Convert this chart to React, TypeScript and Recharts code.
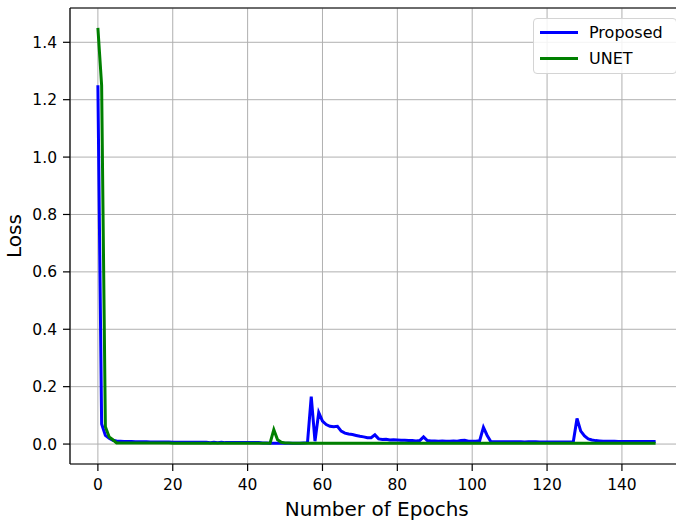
import React from "react";
import {
  LineChart,
  Line,
  CartesianGrid,
  XAxis,
  YAxis,
  ReferenceLine,
  Label,
} from "recharts";

// loss per epoch (epochs 0..149)
const proposed = [
  1.25, 0.07, 0.03, 0.02, 0.013, 0.011, 0.01, 0.009, 0.009, 0.009,
  0.008, 0.008, 0.008, 0.008, 0.007, 0.007, 0.007, 0.007, 0.007, 0.007,
  0.006, 0.006, 0.006, 0.006, 0.006, 0.006, 0.006, 0.006, 0.006, 0.006,
  0.005, 0.006, 0.005, 0.006, 0.005, 0.005, 0.005, 0.005, 0.005, 0.005,
  0.005, 0.005, 0.005, 0.005, 0.004, 0.004, 0.003, 0.003, 0.003, 0.003,
  0.003, 0.003, 0.003, 0.003, 0.003, 0.004, 0.005, 0.165, 0.01, 0.11,
  0.08, 0.068, 0.062, 0.06, 0.062, 0.045, 0.038, 0.035, 0.033, 0.03,
  0.027, 0.025, 0.022, 0.022, 0.032, 0.018, 0.016, 0.017, 0.014, 0.015,
  0.014, 0.013, 0.013, 0.012, 0.012, 0.011, 0.012, 0.025, 0.012, 0.011,
  0.011, 0.01, 0.011, 0.01, 0.01, 0.011, 0.01, 0.012, 0.013, 0.01,
  0.01, 0.01, 0.012, 0.058, 0.03, 0.008, 0.008, 0.008, 0.008, 0.008,
  0.008, 0.008, 0.008, 0.008, 0.007, 0.008, 0.008, 0.008, 0.007, 0.007,
  0.007, 0.007, 0.007, 0.007, 0.007, 0.007, 0.007, 0.007, 0.089, 0.045,
  0.028, 0.018, 0.014, 0.012, 0.011, 0.01, 0.01, 0.01, 0.01, 0.009,
  0.009, 0.009, 0.009, 0.009, 0.009, 0.009, 0.009, 0.009, 0.009, 0.009,
];

const unet = [
  1.45, 1.25, 0.06, 0.025, 0.015, 0.004, 0.004, 0.004, 0.004, 0.004,
  0.004, 0.004, 0.004, 0.004, 0.004, 0.004, 0.004, 0.004, 0.004, 0.004,
  0.003, 0.003, 0.003, 0.003, 0.003, 0.003, 0.003, 0.003, 0.003, 0.003,
  0.003, 0.003, 0.003, 0.003, 0.003, 0.003, 0.003, 0.003, 0.003, 0.003,
  0.003, 0.003, 0.003, 0.003, 0.003, 0.003, 0.003, 0.05, 0.015, 0.006,
  0.004, 0.004, 0.003, 0.003, 0.003, 0.003, 0.003, 0.003, 0.003, 0.003,
  0.003, 0.003, 0.003, 0.003, 0.003, 0.003, 0.003, 0.003, 0.003, 0.003,
  0.003, 0.003, 0.003, 0.003, 0.003, 0.003, 0.003, 0.003, 0.003, 0.003,
  0.003, 0.003, 0.003, 0.003, 0.003, 0.003, 0.003, 0.003, 0.003, 0.003,
  0.003, 0.003, 0.003, 0.003, 0.003, 0.003, 0.003, 0.003, 0.003, 0.003,
  0.003, 0.003, 0.003, 0.003, 0.003, 0.003, 0.003, 0.003, 0.003, 0.003,
  0.003, 0.003, 0.003, 0.003, 0.003, 0.003, 0.003, 0.003, 0.003, 0.003,
  0.003, 0.003, 0.003, 0.003, 0.003, 0.003, 0.003, 0.003, 0.003, 0.003,
  0.003, 0.003, 0.003, 0.003, 0.003, 0.003, 0.003, 0.003, 0.003, 0.003,
  0.003, 0.003, 0.003, 0.003, 0.003, 0.003, 0.003, 0.003, 0.003, 0.003,
];

const xTicks = [0, 20, 40, 60, 80, 100, 120, 140];
const yTicks = [0, 0.2, 0.4, 0.6, 0.8, 1.0, 1.2, 1.4];

const seriesNames = { proposed: "Proposed", unet: "UNET" };

const data = proposed.map((v, i) => ({ epoch: i, proposed: v, unet: unet[i] }));

const FONT = "'DejaVu Sans', sans-serif";
const Y_MAX = 1.5195;

function LegendBox() {
  const rows = [
    { name: seriesNames.proposed, color: "#0000ff" },
    { name: seriesNames.unet, color: "#008000" },
  ];
  return (
    <div
      style={{
        position: "absolute",
        left: 533,
        top: 18,
        width: 142,
        height: 54,
        border: "1px solid #d4d4d4",
        borderRadius: 4,
        background: "rgba(255,255,255,0.85)",
        fontFamily: FONT,
        fontSize: 16,
        color: "#000",
      }}
    >
      {rows.map((r, i) => (
        <div
          key={r.name}
          style={{ position: "absolute", left: 6, top: 2 + i * 26, height: 22, display: "flex", alignItems: "center" }}
        >
          <div style={{ width: 38, height: 3, background: r.color }} />
          <span style={{ marginLeft: 11 }}>{r.name}</span>
        </div>
      ))}
    </div>
  );
}

export default function App() {
  return (
    <div
      style={{
        position: "absolute",
        left: 0,
        top: 0,
        width: 676,
        height: 520,
        overflow: "hidden",
        background: "#fff",
      }}
    >
      <LineChart
        width={700}
        height={520}
        data={data}
        margin={{ top: 8, right: 16.5, bottom: 0, left: 0 }}
        style={{ fontFamily: FONT }}
      >
        <CartesianGrid stroke="#b0b0b0" strokeWidth={1} />
        <XAxis
          dataKey="epoch"
          type="number"
          domain={[-7.45, 156.45]}
          ticks={xTicks}
          allowDataOverflow
          height={56}
          tickSize={7}
          tickMargin={8}
          stroke="#000"
          strokeWidth={1.2}
          tick={{ fill: "#000", fontSize: 15.5 }}
        >
          <Label
            content={({ viewBox }: any) => (
              <text
                x={viewBox.x + viewBox.width / 2}
                y={516}
                textAnchor="middle"
                fontSize={20}
                fill="#000"
                fontFamily={FONT}
              >
                Number of Epochs
              </text>
            )}
          />
        </XAxis>
        <YAxis
          type="number"
          domain={[-0.0695, Y_MAX]}
          ticks={yTicks}
          allowDataOverflow
          width={70}
          tickSize={7}
          tickMargin={6}
          stroke="#000"
          strokeWidth={1.2}
          tick={{ fill: "#000", fontSize: 15.5 }}
          tickFormatter={(v: number) => v.toFixed(1)}
        >
          <Label
            content={({ viewBox }: any) => {
              const cy = viewBox.y + viewBox.height / 2;
              return (
                <text
                  x={14}
                  y={cy}
                  transform={`rotate(-90 14 ${cy})`}
                  textAnchor="middle"
                  dominantBaseline="central"
                  fontSize={20}
                  fill="#000"
                  fontFamily={FONT}
                >
                  Loss
                </text>
              );
            }}
          />
        </YAxis>
        <ReferenceLine y={Y_MAX} stroke="#000" strokeWidth={1.2} />
        <Line
          type="linear"
          dataKey="proposed"
          name={seriesNames.proposed}
          stroke="#0000ff"
          strokeWidth={3}
          dot={false}
          isAnimationActive={false}
        />
        <Line
          type="linear"
          dataKey="unet"
          name={seriesNames.unet}
          stroke="#008000"
          strokeWidth={3}
          dot={false}
          isAnimationActive={false}
        />
      </LineChart>
      <LegendBox />
    </div>
  );
}
